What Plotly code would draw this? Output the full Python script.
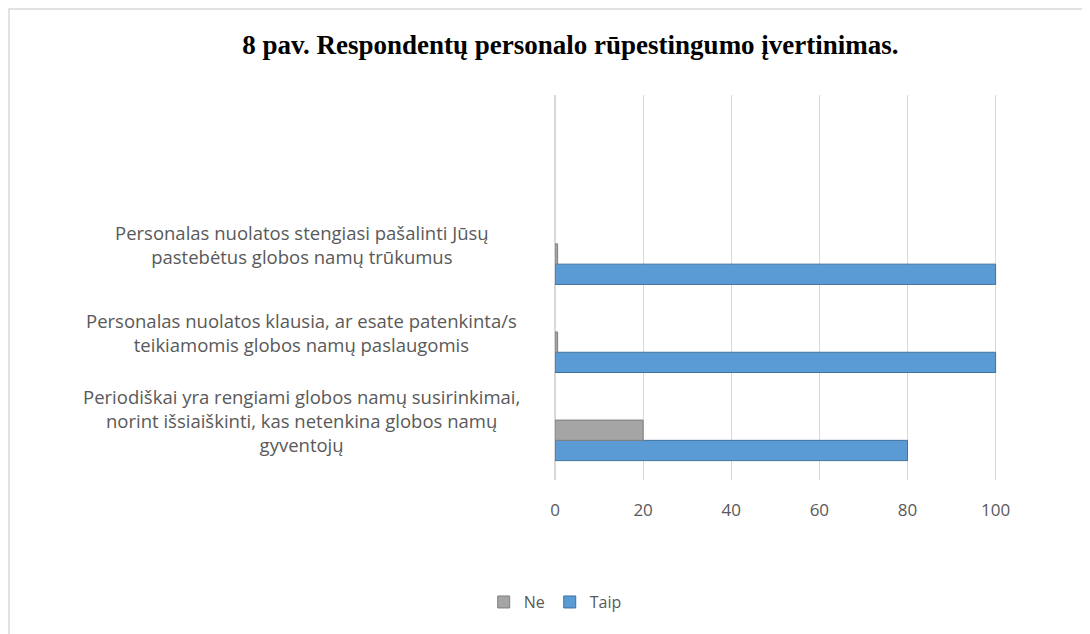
import plotly.graph_objects as go

categories = [
    "Periodiškai yra rengiami globos namų susirinkimai,<br>norint išsiaiškinti, kas netenkina globos namų<br>gyventojų",
    "Personalas nuolatos klausia, ar esate patenkinta/s<br>teikiamomis globos namų paslaugomis",
    "Personalas nuolatos stengiasi pašalinti Jūsų<br>pastebėtus globos namų trūkumus",
]
taip = [80, 100, 100]
ne = [20, 0.6, 0.6]
x_ticks = [0, 20, 40, 60, 80, 100]

W, H = 1090, 634
ml, mr, mt, mb = 547, 98, 87, 162
pw = W - ml - mr
ph = H - mt - mb

fig = go.Figure()
fig.add_trace(go.Bar(y=list(range(len(categories))), x=taip, name="Taip", orientation="h",
                     marker=dict(color="#5B9BD5", line=dict(color="#41719C", width=1))))
fig.add_trace(go.Bar(y=list(range(len(categories))), x=ne, name="Ne", orientation="h",
                     marker=dict(color="#A5A5A5", line=dict(color="#7F7F7F", width=1))))

for i, c in enumerate(categories):
    fig.add_annotation(x=-0.569, xref="paper", y=i, yref="y", yshift=20, text=c, showarrow=False,
                       xanchor="center", align="center",
                       font=dict(family="Open Sans, Liberation Sans", size=18.5, color="#595959"))

# border around chart
fig.add_shape(type="rect", xref="paper", yref="paper",
              x0=(1 - ml) / pw, x1=(W + 20 - ml) / pw,
              y0=-(H - 1 - (H - mb)) / ph,
              y1=1 + (mt - 1) / ph,
              line=dict(color="#D9D9D9", width=1.5), layer="below")

fig.update_layout(
    width=W, height=H,
    margin=dict(l=ml, r=mr, t=mt, b=mb),
    paper_bgcolor="white", plot_bgcolor="white",
    barmode="group", bargap=0.54, bargroupgap=0.0,
    title=dict(text="<b>8 pav. Respondentų personalo rūpestingumo įvertinimas.</b>",
               x=0.516, xref="container", y=0.942, yref="container", xanchor="center",
               yanchor="middle",
               font=dict(family="Liberation Serif", size=27, color="black")),
    xaxis=dict(range=[0, 101], tickvals=x_ticks, ticktext=[str(v) for v in x_ticks],
               showgrid=True, gridcolor="#D9D9D9", gridwidth=1, zeroline=True,
               zerolinecolor="#D9D9D9", showline=False, ticks="", ticklabelstandoff=18,
               tickfont=dict(family="Open Sans, Liberation Sans", size=17, color="#595959")),
    yaxis=dict(range=[-0.45, 3.92], showticklabels=False, showgrid=False, zeroline=False,
               showline=False),
    legend=dict(orientation="h", x=0.502, xref="container", y=0.063, yref="container",
                yanchor="middle", xanchor="center", traceorder="reversed",
                font=dict(family="Open Sans, Liberation Sans", size=16, color="#595959")),
)

fig.write_html("out.html")
